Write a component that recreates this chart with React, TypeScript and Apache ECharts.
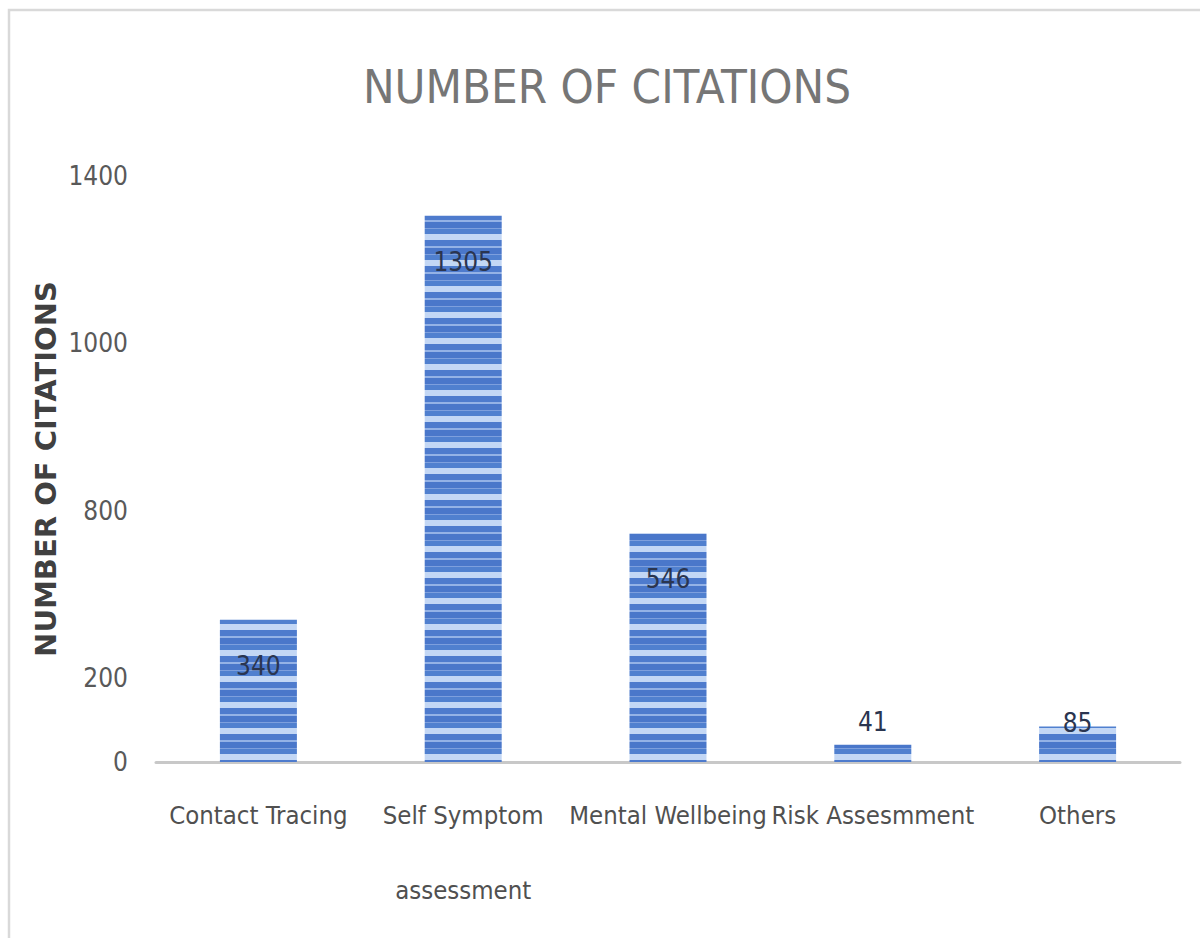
import React, { useEffect, useRef } from "react";
import * as echarts from "echarts";

const categories = [
  "Contact Tracing",
  "Self Symptom\n\nassessment",
  "Mental Wellbeing",
  "Risk Assesmment",
  "Others",
];
const citations = [340, 1305, 546, 41, 85];
const yTickValues = [0, 200, 400, 600, 800, 1000, 1200, 1400];
const yTickLabels = ["0", "200", "", "800", "", "1000", "", "1400"];
const chartTitle = "NUMBER OF CITATIONS";
const yAxisTitle = "NUMBER OF CITATIONS";

const NARROW = "'Liberation Sans Narrow', 'DejaVu Sans Condensed', 'Noto Sans', sans-serif";

function makeStripePattern(): HTMLCanvasElement {
  const c = document.createElement("canvas");
  c.width = 4;
  c.height = 26;
  const ctx = c.getContext("2d")!;
  const rows: [number, number, string][] = [
    [0, 6, "#c3d7f5"],
    [6, 12, "#4e7bcd"],
    [12, 14, "#94b2e6"],
    [14, 20, "#4a77ca"],
    [20, 21, "#7d9fdd"],
    [21, 26, "#5080cf"],
  ];
  rows.forEach(([a, b, col]) => {
    ctx.fillStyle = col;
    ctx.fillRect(0, a, 4, b - a);
  });
  return c;
}

export default function App() {
  const ref = useRef<HTMLDivElement>(null);
  useEffect(() => {
    if (!ref.current) return;
    const chart = echarts.init(ref.current, undefined, { renderer: "svg" });
    const pattern = makeStripePattern();
    const labelFor = (v: number, i: number) => {
      if (i === 3) return { position: "top", distance: 10 };
      if (i === 4) return { position: "top", distance: -10 };
      return { position: "insideTop", distance: 33 };
    };
    chart.setOption({
      animation: false,
      backgroundColor: "#ffffff",
      title: {
        text: chartTitle,
        left: 358,
        top: 56,
        textStyle: {
          fontFamily: NARROW,
          fontSize: 47,
          fontWeight: "normal",
          color: "#767676",
          lineHeight: 50,
        },
      },
      graphic: [
        {
          type: "rect",
          shape: { x: 9, y: 10, width: 1220, height: 960 },
          style: { fill: "none", stroke: "#d9d9d9", lineWidth: 2.5 },
          silent: true,
        },
      ],
      grid: { left: 156, right: 20, top: 176, bottom: 176, containLabel: false },
      xAxis: {
        type: "category",
        data: categories,
        axisLine: { show: true, lineStyle: { color: "#c8c8c8", width: 3 } },
        axisTick: { show: false },
        axisLabel: {
          interval: 0,
          margin: 34,
          fontFamily: NARROW,
          fontSize: 25.5,
          color: "#505050",
          lineHeight: 37.5,
        },
      },
      yAxis: {
        type: "value",
        min: 0,
        max: 1400,
        interval: 200,
        name: yAxisTitle,
        nameLocation: "middle",
        nameGap: 96,
        nameMoveOverlap: false,
        nameTextStyle: {
          fontFamily: "'DejaVu Sans', sans-serif",
          fontWeight: "bold",
          fontSize: 29,
          color: "#404040",
        },
        axisLine: { show: false },
        axisTick: { show: false },
        splitLine: { show: false },
        axisLabel: {
          margin: 28,
          fontFamily: NARROW,
          fontSize: 26,
          color: "#595959",
          formatter: (v: number) => {
            const idx = yTickValues.indexOf(v);
            return idx >= 0 ? yTickLabels[idx] : "";
          },
        },
      },
      series: [
        {
          type: "bar",
          barWidth: "37.6%",
          data: citations.map((v, i) => ({
            value: v,
            label: labelFor(v, i),
          })),
          itemStyle: {
            color: { image: pattern, repeat: "repeat" },
          },
          label: {
            show: true,
            fontFamily: NARROW,
            fontSize: 26,
            color: "#2a3550",
          },
        },
      ],
    });
    return () => chart.dispose();
  }, []);
  return (
    <div
      ref={ref}
      style={{ position: "fixed", left: 0, top: 0, width: 1200, height: 938 }}
    />
  );
}
